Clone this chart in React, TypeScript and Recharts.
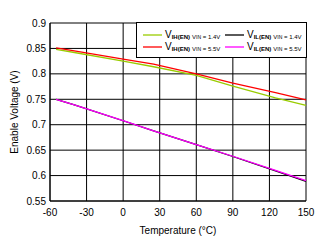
import { LineChart, Line, XAxis, YAxis, CartesianGrid } from 'recharts'

const temps = [-55, -40, 0, 25, 60, 90, 125, 150]
const vihLow = [0.848, 0.842, 0.825, 0.814, 0.797, 0.776, 0.753, 0.738]
const vihHigh = [0.851, 0.845, 0.829, 0.819, 0.8, 0.782, 0.763, 0.749]
const vilLow = [0.7498, 0.7388, 0.7078, 0.6878, 0.6607, 0.6375, 0.6092, 0.5885]
const vilHigh = [0.75, 0.739, 0.708, 0.688, 0.661, 0.638, 0.61, 0.59]

const xTicks = [-60, -30, 0, 30, 60, 90, 120, 150]
const yTicks = [0.55, 0.6, 0.65, 0.7, 0.75, 0.8, 0.85, 0.9]

const series = [
  { key: 'vihLow', color: '#99cc00', sub: 'IH(EN)', vin: '1.4V' },
  { key: 'vilLow', color: '#000000', sub: 'IL(EN)', vin: '1.4V' },
  { key: 'vihHigh', color: '#ff0000', sub: 'IH(EN)', vin: '5.5V' },
  { key: 'vilHigh', color: '#ff00ff', sub: 'IL(EN)', vin: '5.5V' },
]

const data = temps.map((t, i) => ({
  t,
  vihLow: vihLow[i],
  vihHigh: vihHigh[i],
  vilLow: vilLow[i],
  vilHigh: vilHigh[i],
}))

const FONT = '"Liberation Sans", Arial, sans-serif'

function LegendBox() {
  return (
    <div
      style={{
        position: 'absolute',
        left: 136,
        top: 22,
        border: '1px solid #000',
        background: '#fff',
        width: 171,
        height: 36,
        boxSizing: 'border-box',
        display: 'grid',
        gridTemplateColumns: '82px 82px',
        gridTemplateRows: '12px 12px',
        padding: '6px 0 0 6px',
        fontFamily: FONT,
        color: '#000',
      }}
    >
      {series.map((s) => (
        <div key={s.key} style={{ display: 'flex', alignItems: 'center', height: 12 }}>
          <svg width={19} height={4} style={{ marginRight: 3 }}>
            <line x1={0} y1={2} x2={19} y2={2} stroke={s.color} strokeWidth={1.3} />
          </svg>
          <span style={{ fontSize: 10, lineHeight: '10px' }}>V</span>
          <span style={{ fontSize: 6, fontWeight: 'bold', lineHeight: '6px', marginTop: 4 }}>{s.sub}</span>
          <span style={{ fontSize: 6, lineHeight: '6px', marginTop: 4, marginLeft: 2 }}>
            V<span style={{ fontSize: 5 }}>IN</span> = {s.vin}
          </span>
        </div>
      ))}
    </div>
  )
}

export default function App() {
  return (
    <div style={{ position: 'absolute', left: 0, top: 0, width: 327, height: 243, background: '#fff' }}>
      <LineChart width={327} height={243} data={data} margin={{ top: 23, right: 21, bottom: 0, left: 0 }}>
        <CartesianGrid stroke="#000" strokeWidth={1} horizontalValues={yTicks} verticalValues={xTicks} />
        <XAxis
          dataKey="t"
          type="number"
          domain={[-60, 150]}
          ticks={xTicks}
          interval={0}
          height={42}
          tickLine={false}
          axisLine={{ stroke: '#000' }}
          tick={{ fill: '#000', fontSize: 10, fontFamily: FONT }}
          label={{ value: 'Temperature (°C)', position: 'insideBottom', offset: 9, fill: '#000', fontSize: 10, fontFamily: FONT }}
        />
        <YAxis
          type="number"
          domain={[0.55, 0.9]}
          ticks={yTicks}
          interval={0}
          width={50}
          tickSize={2}
          tickLine={false}
          axisLine={{ stroke: '#000' }}
          tick={{ fill: '#000', fontSize: 10, fontFamily: FONT }}
          label={{
            value: 'Enable Voltage (V)',
            angle: -90,
            position: 'insideLeft',
            offset: 14,
            fill: '#000',
            fontSize: 10,
            fontFamily: FONT,
            style: { textAnchor: 'middle' },
          }}
        />
        {series.map((s) => (
          <Line
            key={s.key}
            dataKey={s.key}
            type="linear"
            stroke={s.color}
            strokeWidth={1.3}
            dot={false}
            isAnimationActive={false}
          />
        ))}
      </LineChart>
      <LegendBox />
    </div>
  )
}
